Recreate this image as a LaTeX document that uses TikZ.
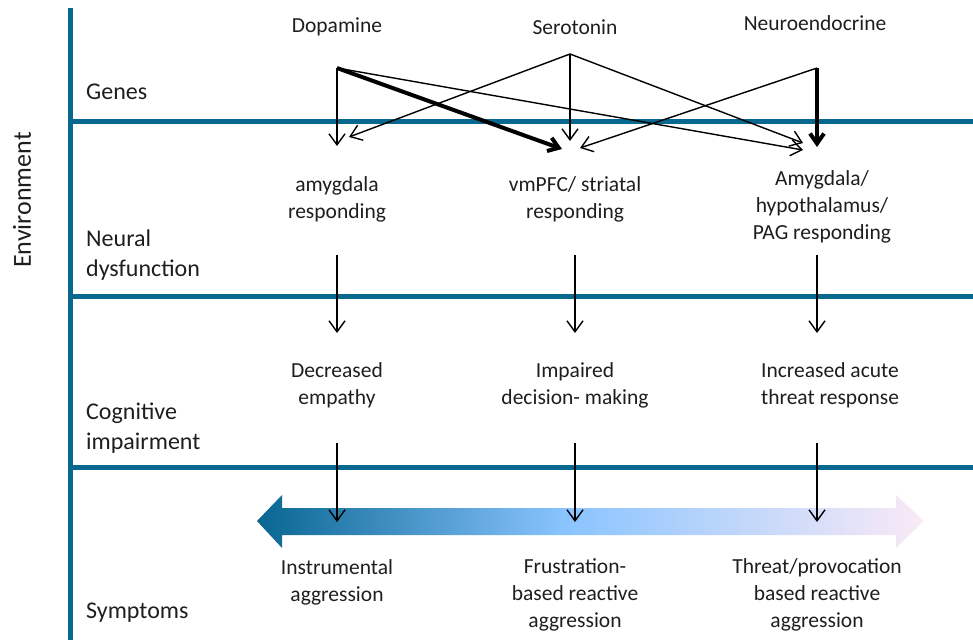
\documentclass[tikz,border=0pt]{standalone}
\usepackage{fontspec}
\setmainfont{Carlito}
\usetikzlibrary{arrows.meta}
\definecolor{barblue}{RGB}{8,104,143}
\definecolor{txt}{RGB}{30,30,30}
\definecolor{gradA}{RGB}{8,102,145}
\definecolor{gradB}{RGB}{137,196,255}
\definecolor{gradC}{RGB}{250,234,246}
\pgfdeclarehorizontalshading{aggrshade}{100bp}{%
  color(0bp)=(gradA); color(25bp)=(gradA); color(48bp)=(gradB);
  color(75bp)=(gradC); color(100bp)=(gradC)}
\tikzset{
  rail/.style={line width=5pt, barblue},
  lvl/.style={anchor=west, align=left, text=txt, font=\fontsize{24}{30}\selectfont, inner sep=0pt},
  lbl/.style={align=center, text=txt, font=\fontsize{21.5}{27}\selectfont, inner sep=0pt},
  thinarr/.style={line width=1.4pt, -{Straight Barb[length=11pt,width=16pt]}},
  thickarr/.style={line width=4pt, -{Straight Barb[length=10pt,width=14pt]}},
}
\begin{document}
\begin{tikzpicture}[x=1pt,y=-1pt]
\useasboundingbox (0,0) rectangle (973,640);

% frame of levels
\draw[rail] (70,8) -- (70,640);
\draw[rail] (70,121) -- (973,121);
\draw[rail] (70,296) -- (973,296);
\draw[rail] (70,467) -- (973,467);

% level names
\node[lvl] (genes) at (86,92) {Genes};
\node[lvl] (neural) at (86,255) {Neural\\dysfunction};
\node[lvl] (cogn) at (86,428) {Cognitive\\impairment};
\node[lvl] (sympt) at (86,613) {Symptoms};
\node[lvl, anchor=center, rotate=90, font=\fontsize{26}{30}\selectfont] (env) at (22,200) {Environment};

% gene systems
\node[lbl] (dopa) at (337,27) {Dopamine};
\node[lbl] (sero) at (575,27) {Serotonin};
\node[lbl] (neuro) at (815,23) {Neuroendocrine};

% brain responses
\node[lbl] (amyg) at (337,199) {amygdala\\responding};
\node[lbl] (vmpfc) at (575,199) {vmPFC/ striatal\\responding};
\node[lbl] (pag) at (822,207) {Amygdala/\\hypothalamus/\\PAG responding};

% cognitive impairments
\node[lbl] (empathy) at (337,385) {Decreased\\empathy};
\node[lbl] (decision) at (575,385) {Impaired\\decision- making};
\node[lbl] (threat) at (830,385) {Increased acute\\threat response};

% symptom types
\node[lbl] (instr) at (337,582) {Instrumental\\aggression};
\node[lbl] (frustr) at (575,595) {Frustration-\\based reactive\\aggression};
\node[lbl] (provoc) at (817,595) {Threat/provocation\\based reactive\\aggression};

% arrow end points between genes and neural level
\coordinate (dO) at (337,68);
\coordinate (sO) at (570,54);
\coordinate (nO) at (817,68);
\coordinate (dT1) at (337,146);
\coordinate (sT1) at (349,137);
\coordinate (dT2) at (562,149);
\coordinate (sT2) at (570,141);
\coordinate (nT2) at (580,148);
\coordinate (sT3) at (803,143);
\coordinate (dT3) at (803,150);
\coordinate (nT3) at (817,147);

\draw[thinarr] (dO) -- (dT1);
\draw[thinarr] (sO) -- (sT1);
\draw[thinarr] (sO) -- (sT2);
\draw[thinarr] (sO) -- (sT3);
\draw[thinarr] (dO) -- (dT3);
\draw[thinarr] (nO) -- (nT2);
\draw[thickarr] (dO) -- (dT2);
\draw[thickarr] (nO) -- (nT3);

% gradient double arrow of aggression types
\shade[shading=aggrshade]
  (257,521) -- (282,495) -- (282,508) -- (896,508) -- (896,495)
  -- (924,521) -- (896,548) -- (896,535) -- (282,535) -- (282,548) -- cycle;

% vertical arrows between levels
\coordinate (a1) at (337,255); \coordinate (a1e) at (337,333);
\coordinate (a2) at (575,255); \coordinate (a2e) at (575,333);
\coordinate (a3) at (817,255); \coordinate (a3e) at (817,333);
\coordinate (b1) at (337,443); \coordinate (b1e) at (337,522);
\coordinate (b2) at (575,443); \coordinate (b2e) at (575,522);
\coordinate (b3) at (817,443); \coordinate (b3e) at (817,522);
\draw[thinarr] (a1) -- (a1e);
\draw[thinarr] (a2) -- (a2e);
\draw[thinarr] (a3) -- (a3e);
\draw[thinarr] (b1) -- (b1e);
\draw[thinarr] (b2) -- (b2e);
\draw[thinarr] (b3) -- (b3e);
\end{tikzpicture}
\end{document}
